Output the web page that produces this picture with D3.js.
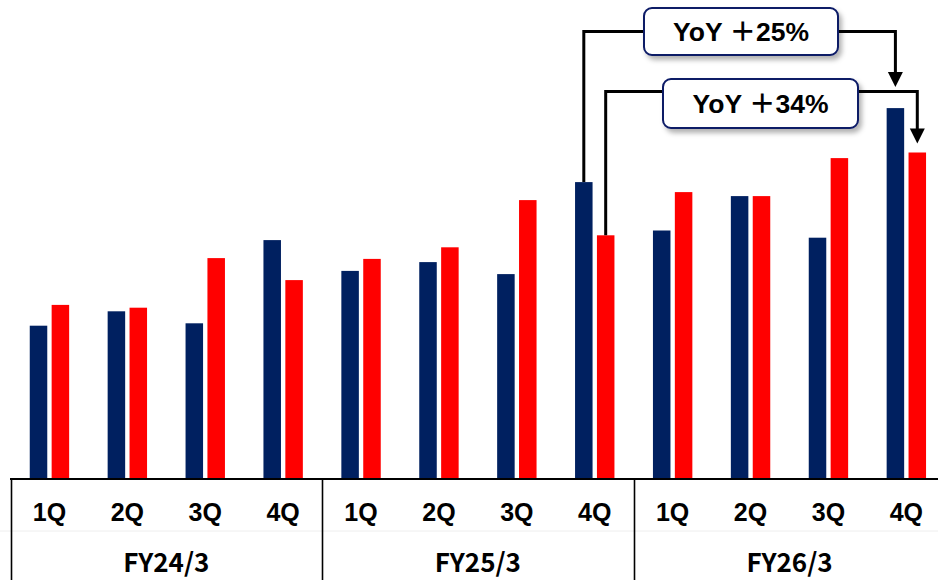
<!DOCTYPE html>
<html>
<head>
<meta charset="utf-8">
<script src="https://cdn.jsdelivr.net/npm/d3@7/dist/d3.min.js"></script>
<style>
  html, body { margin: 0; padding: 0; background: #fff; }
  svg { display: block; }
  text { font-family: "Liberation Sans", "Noto Sans CJK JP", sans-serif; font-weight: 700; fill: #000; }
  text.fy { font-family: "Noto Sans CJK JP", "Liberation Sans", sans-serif; }
</style>
</head>
<body>
<svg id="chart" width="938" height="580"></svg>
<script>
// Quarterly values for the two series, three fiscal years
const fiscalYears = ["FY24/3", "FY25/3", "FY26/3"];
const quarters = ["1Q", "2Q", "3Q", "4Q"];
const seriesA = [38.2, 41.8, 38.8, 59.6, 51.9, 54.1, 51.1, 74.1, 62.0, 70.6, 60.2, 92.6];
const seriesB = [43.4, 42.7, 55.1, 49.6, 54.9, 57.8, 69.6, 60.8, 71.6, 70.6, 80.1, 81.5];
const colors = { a: "#002060", b: "#FF0000" };

// Year-over-year callouts: series, from-index, to-index, label
const callouts = [
  { series: "a", from: 7, to: 11, label: "YoY ＋25%", level: 31.5, box: [644, 8, 194, 47], gap: 21 },
  { series: "b", from: 7, to: 11, label: "YoY ＋34%", level: 91.5, box: [663, 79, 195, 49], gap: 9 }
];

const svg = d3.select("#chart");
const W = 938, H = 580;
const baseY = 478.5;

const keys = [];
fiscalYears.forEach(fy => quarters.forEach(q => keys.push(fy + "|" + q)));

const x = d3.scaleBand().domain(keys).range([10.5, 945.3]).padding(0);
const xInner = d3.scaleBand().domain(["a", "b"]).range([0, 39.4]).paddingInner(0.2).paddingOuter(0);
const y = d3.scaleLinear().domain([0, 100]).range([baseY, baseY - 400]);

const rows = keys.map((k, i) => ({ key: k, a: seriesA[i], b: seriesB[i] }));

// drop shadow for callout boxes
const defs = svg.append("defs");
const f = defs.append("filter").attr("id", "shadow").attr("x", "-20%").attr("y", "-30%").attr("width", "140%").attr("height", "170%");
f.append("feDropShadow").attr("dx", 3).attr("dy", 4).attr("stdDeviation", 2.5)
  .attr("flood-color", "#000").attr("flood-opacity", 0.3);

// bars
const groups = svg.append("g").selectAll("g").data(rows).join("g")
  .attr("transform", d => `translate(${x(d.key) + x.bandwidth() / 2 - 19.7},0)`);
groups.selectAll("rect").data(d => ["a", "b"].map(s => ({ s, v: d[s] }))).join("rect")
  .attr("x", d => xInner(d.s))
  .attr("width", xInner.bandwidth())
  .attr("y", d => y(d.v))
  .attr("height", d => baseY - y(d.v))
  .attr("fill", d => colors[d.s]);

// category axis: baseline, faint row divider, fiscal-year separators
const axis = svg.append("g");
axis.append("line").attr("x1", 0).attr("x2", W).attr("y1", 531).attr("y2", 531)
  .attr("stroke", "#eeeeee").attr("stroke-width", 1);
axis.append("line").attr("x1", 10).attr("x2", W).attr("y1", baseY + 0.5).attr("y2", baseY + 0.5)
  .attr("stroke", "#000").attr("stroke-width", 2);
[0, 4, 8].forEach(i => {
  const xx = Math.round(x(keys[i])) + 0.5;
  axis.append("line").attr("x1", xx).attr("x2", xx).attr("y1", baseY).attr("y2", H)
    .attr("stroke", "#000").attr("stroke-width", 1.6);
});

// quarter labels
svg.append("g").selectAll("text").data(keys).join("text")
  .attr("x", d => x(d) + x.bandwidth() / 2)
  .attr("y", 521)
  .attr("text-anchor", "middle")
  .attr("font-size", 25)
  .text(d => d.split("|")[1]);

// fiscal-year labels
svg.append("g").selectAll("text").data(fiscalYears).join("text")
  .attr("class", "fy")
  .attr("x", (d, i) => (x(keys[i * 4]) + x(keys[i * 4 + 3]) + x.bandwidth()) / 2)
  .attr("y", 572)
  .attr("text-anchor", "middle")
  .attr("font-size", 26)
  .text(d => d);

// YoY callouts: elbow connector with arrow, then labelled box on top
const values = { a: seriesA, b: seriesB };
const cx = (i, s) => x(keys[i]) + x.bandwidth() / 2 - 19.7 + xInner(s) + xInner.bandwidth() / 2;

callouts.forEach(c => {
  const x0 = cx(c.from, c.series), x1 = cx(c.to, c.series);
  const y0 = y(values[c.series][c.from]);
  const tipY = y(values[c.series][c.to]) - c.gap;
  const headH = 15, headW = 15;
  svg.append("path")
    .attr("d", `M${x0},${y0} V${c.level} H${x1} V${tipY - headH + 1}`)
    .attr("fill", "none").attr("stroke", "#000").attr("stroke-width", 3);
  svg.append("path")
    .attr("d", `M${x1 - headW / 2},${tipY - headH} L${x1 + headW / 2},${tipY - headH} L${x1},${tipY} Z`)
    .attr("fill", "#000");
  const [bx, by, bw, bh] = c.box;
  svg.append("rect").attr("x", bx).attr("y", by).attr("width", bw).attr("height", bh)
    .attr("rx", 8).attr("ry", 8)
    .attr("fill", "#fff").attr("stroke", "#0a1a66").attr("stroke-width", 2)
    .attr("filter", "url(#shadow)");
  svg.append("text").attr("x", bx + bw / 2).attr("y", by + bh / 2 + 9)
    .attr("text-anchor", "middle").attr("font-size", 26.5)
    .text(c.label);
});
</script>
</body>
</html>
